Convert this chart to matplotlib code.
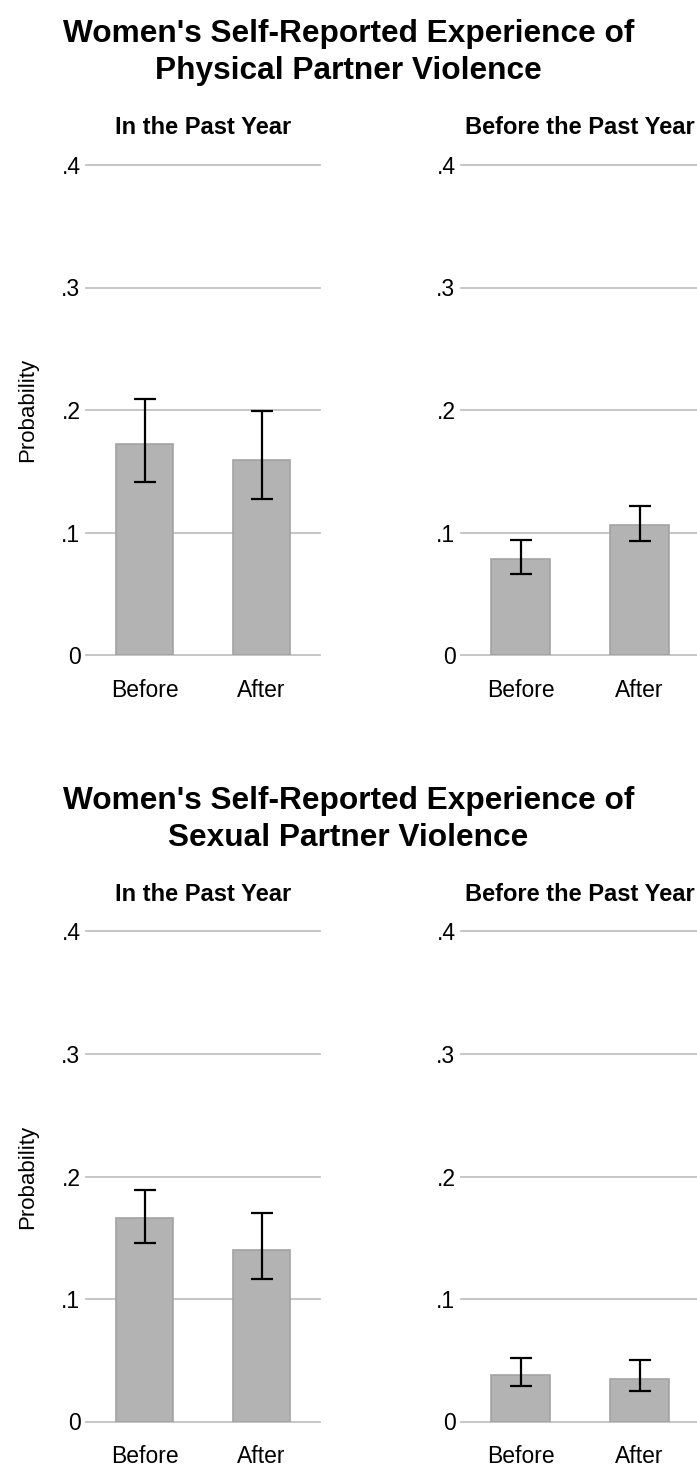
import numpy as np
import matplotlib
matplotlib.use('Agg')
import matplotlib.pyplot as plt
from matplotlib import font_manager

# Data
groups = ['Before', 'After']
yticks = [0, 0.1, 0.2, 0.3, 0.4]
ytick_labels = ['0', '.1', '.2', '.3', '.4']

phys_past = [0.172, 0.159]
phys_past_lo = [0.1415, 0.127]
phys_past_hi = [0.2087, 0.199]

phys_prior = [0.078, 0.106]
phys_prior_lo = [0.066, 0.093]
phys_prior_hi = [0.094, 0.122]

sex_past = [0.166, 0.140]
sex_past_lo = [0.146, 0.116]
sex_past_hi = [0.189, 0.170]

sex_prior = [0.038, 0.035]
sex_prior_lo = [0.029, 0.025]
sex_prior_hi = [0.052, 0.050]

W, H = 697, 1469
plt.rcParams['font.family'] = ['Liberation Sans', 'DejaVu Sans']

names = {f.name for f in font_manager.fontManager.ttflist}
if 'Liberation Sans Narrow' in names:
    sup_family, sup_size = 'Liberation Sans Narrow', 27.5
else:
    sup_family, sup_size = 'Liberation Sans', 22.8

fig = plt.figure(figsize=(W / 100, H / 100), dpi=100)


def panel(left_px, width_px, zero_px, vals, lo, hi, title, ylabel):
    top_px = zero_px - 490
    ax = fig.add_axes([left_px / W, 1 - zero_px / H, width_px / W, (zero_px - top_px) / H])
    x = np.arange(len(vals))
    vals = np.array(vals)
    err = [vals - np.array(lo), np.array(hi) - vals]
    ax.bar(x, vals, width=0.49, color='#b3b3b3', edgecolor='#a3a3a3', linewidth=1.2, zorder=2)
    ax.errorbar(x, vals, yerr=err, fmt='none', ecolor='black', elinewidth=1.6,
                capsize=8, capthick=1.6, zorder=3)
    ax.set_xlim(-0.5, 1.5)
    ax.set_ylim(0, 0.4)
    ax.set_xticks(x)
    ax.set_xticklabels(groups, fontsize=16.5)
    ax.set_yticks(yticks)
    ax.set_yticklabels(ytick_labels, fontsize=16.5)
    ax.tick_params(axis='x', length=0, pad=17)
    ax.tick_params(axis='y', length=0, pad=4)
    ax.yaxis.grid(True, color='#c2c2c2', linewidth=1.3)
    for gl in ax.get_ygridlines():
        gl.set_clip_on(False)
    ax.set_axisbelow(True)
    for s in ax.spines.values():
        s.set_visible(False)
    ax.set_title(title, fontsize=17, fontweight='bold', pad=22)
    if ylabel:
        ax.set_ylabel('Probability', fontsize=16, labelpad=17)
    return ax


# Physical violence (top row)
panel(86, 234, 655, phys_past, phys_past_lo, phys_past_hi, 'In the Past Year', True)
panel(461, 238, 655, phys_prior, phys_prior_lo, phys_prior_hi, 'Before the Past Year', False)
fig.text(0.5, 1 - 19 / H, "Women's Self-Reported Experience of\nPhysical Partner Violence",
         ha='center', va='top', fontsize=sup_size, fontweight='bold', family=sup_family,
         linespacing=1.3)

# Sexual violence (bottom row)
panel(86, 234, 1421.5, sex_past, sex_past_lo, sex_past_hi, 'In the Past Year', True)
panel(461, 238, 1421.5, sex_prior, sex_prior_lo, sex_prior_hi, 'Before the Past Year', False)
fig.text(0.5, 1 - 786 / H, "Women's Self-Reported Experience of\nSexual Partner Violence",
         ha='center', va='top', fontsize=sup_size, fontweight='bold', family=sup_family,
         linespacing=1.3)

fig.savefig('out.png', dpi=100)
